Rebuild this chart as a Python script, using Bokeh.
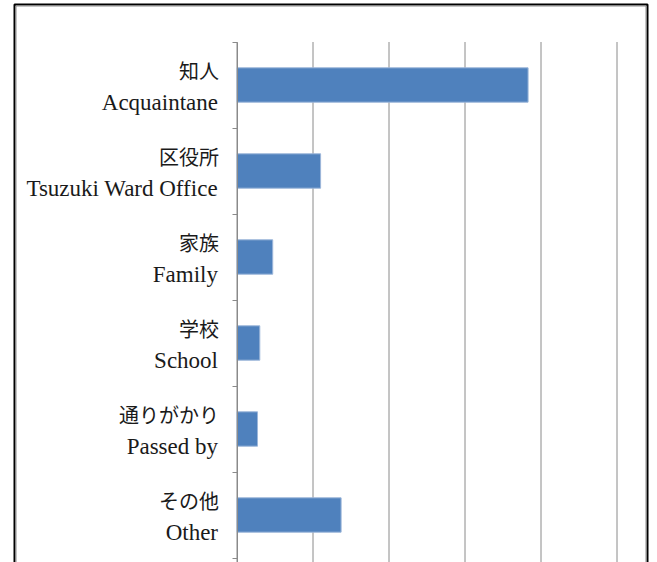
from bokeh.plotting import figure
from bokeh.models import (ColumnDataSource, FixedTicker, Range1d, LinearAxis, BoxAnnotation)
from bokeh.core.properties import value
from bokeh.embed import file_html
from bokeh.resources import INLINE

# Data
categories_jp = ["知人", "区役所", "家族", "学校", "通りがかり", "その他"]
categories_en = ["Acquaintane", "Tsuzuki Ward Office", "Family", "School", "Passed by", "Other"]
values = [38.3, 11.0, 4.7, 3.0, 2.7, 13.7]
x_ticks = [0, 10, 20, 30, 40, 50]

n = len(values)
centers = [i + 0.5 for i in range(n)]
boundaries = list(range(n + 1))

W, H = 657, 562
# frame covers the whole canvas; data 0 -> px 236.5, 50 -> px 616.5
px_per_x = 380 / (x_ticks[-1] - x_ticks[0])
x0_px = 236.5
x_start = -x0_px / px_per_x
x_end = x_start + W / px_per_x
px_per_cat = 86
y0_px = 41.5
y_top = -y0_px / px_per_cat
y_bottom = y_top + H / px_per_cat

src = ColumnDataSource(dict(y=centers, v=values, jp=categories_jp, en=categories_en,
                            x0=[0] * n))

p = figure(width=W, height=H, output_backend="svg", toolbar_location=None,
           x_axis_location=None, y_axis_location=None,
           x_range=Range1d(x_start, x_end), y_range=Range1d(y_bottom, y_top),
           min_border=0, min_border_left=0, min_border_right=0,
           min_border_top=0, min_border_bottom=0)
p.outline_line_color = None
p.background_fill_color = "white"
p.border_fill_color = "white"
p.xgrid.visible = False
p.ygrid.visible = False

# vertical gridlines from the x tick values, spanning the category area
p.segment(x0=x_ticks, y0=[0] * len(x_ticks), x1=x_ticks, y1=[y_bottom] * len(x_ticks),
          line_color="#8a8a8a", line_width=1)

# category axis (ticks between categories)
ya = LinearAxis(fixed_location=0, bounds=(0, y_bottom),
                ticker=FixedTicker(ticks=boundaries, minor_ticks=[]))
ya.major_label_overrides = {b: "" for b in boundaries}
ya.major_label_text_font_size = "0px"
ya.axis_line_color = "#8a8a8a"
ya.major_tick_line_color = "#8a8a8a"
ya.major_tick_line_width = 1
ya.major_tick_in = 0
ya.major_tick_out = 5
ya.minor_tick_line_color = None
p.add_layout(ya, "left")

p.hbar(y="y", left=0, right="v", height=0.4, source=src,
       fill_color="#4F81BD", line_color="#9DB7DA", line_width=1)

p.text(x="x0", y="y", text="jp", source=src, x_offset=-18, y_offset=-15,
       text_align="right", text_baseline="alphabetic",
       text_font=value("Noto Sans CJK JP"), text_font_size="20px", text_color="#1a1a1a")
p.text(x="x0", y="y", text="en", source=src, x_offset=-19, y_offset=17,
       text_align="right", text_baseline="alphabetic",
       text_font=value("Liberation Serif"), text_font_size="23px", text_color="#1a1a1a")

outer = BoxAnnotation(left=14, right=647, top=4, bottom=H + 40,
                      left_units="canvas", right_units="canvas",
                      top_units="canvas", bottom_units="canvas",
                      fill_color=None, line_color="black", line_width=2, line_alpha=1)
inner = BoxAnnotation(left=15.5, right=645.5, top=5.5, bottom=H + 40,
                      left_units="canvas", right_units="canvas",
                      top_units="canvas", bottom_units="canvas",
                      fill_color=None, line_color="#8c8c8c", line_width=1, line_alpha=1)
p.add_layout(outer)
p.add_layout(inner)

open("out.html", "w").write(file_html(p, INLINE))
